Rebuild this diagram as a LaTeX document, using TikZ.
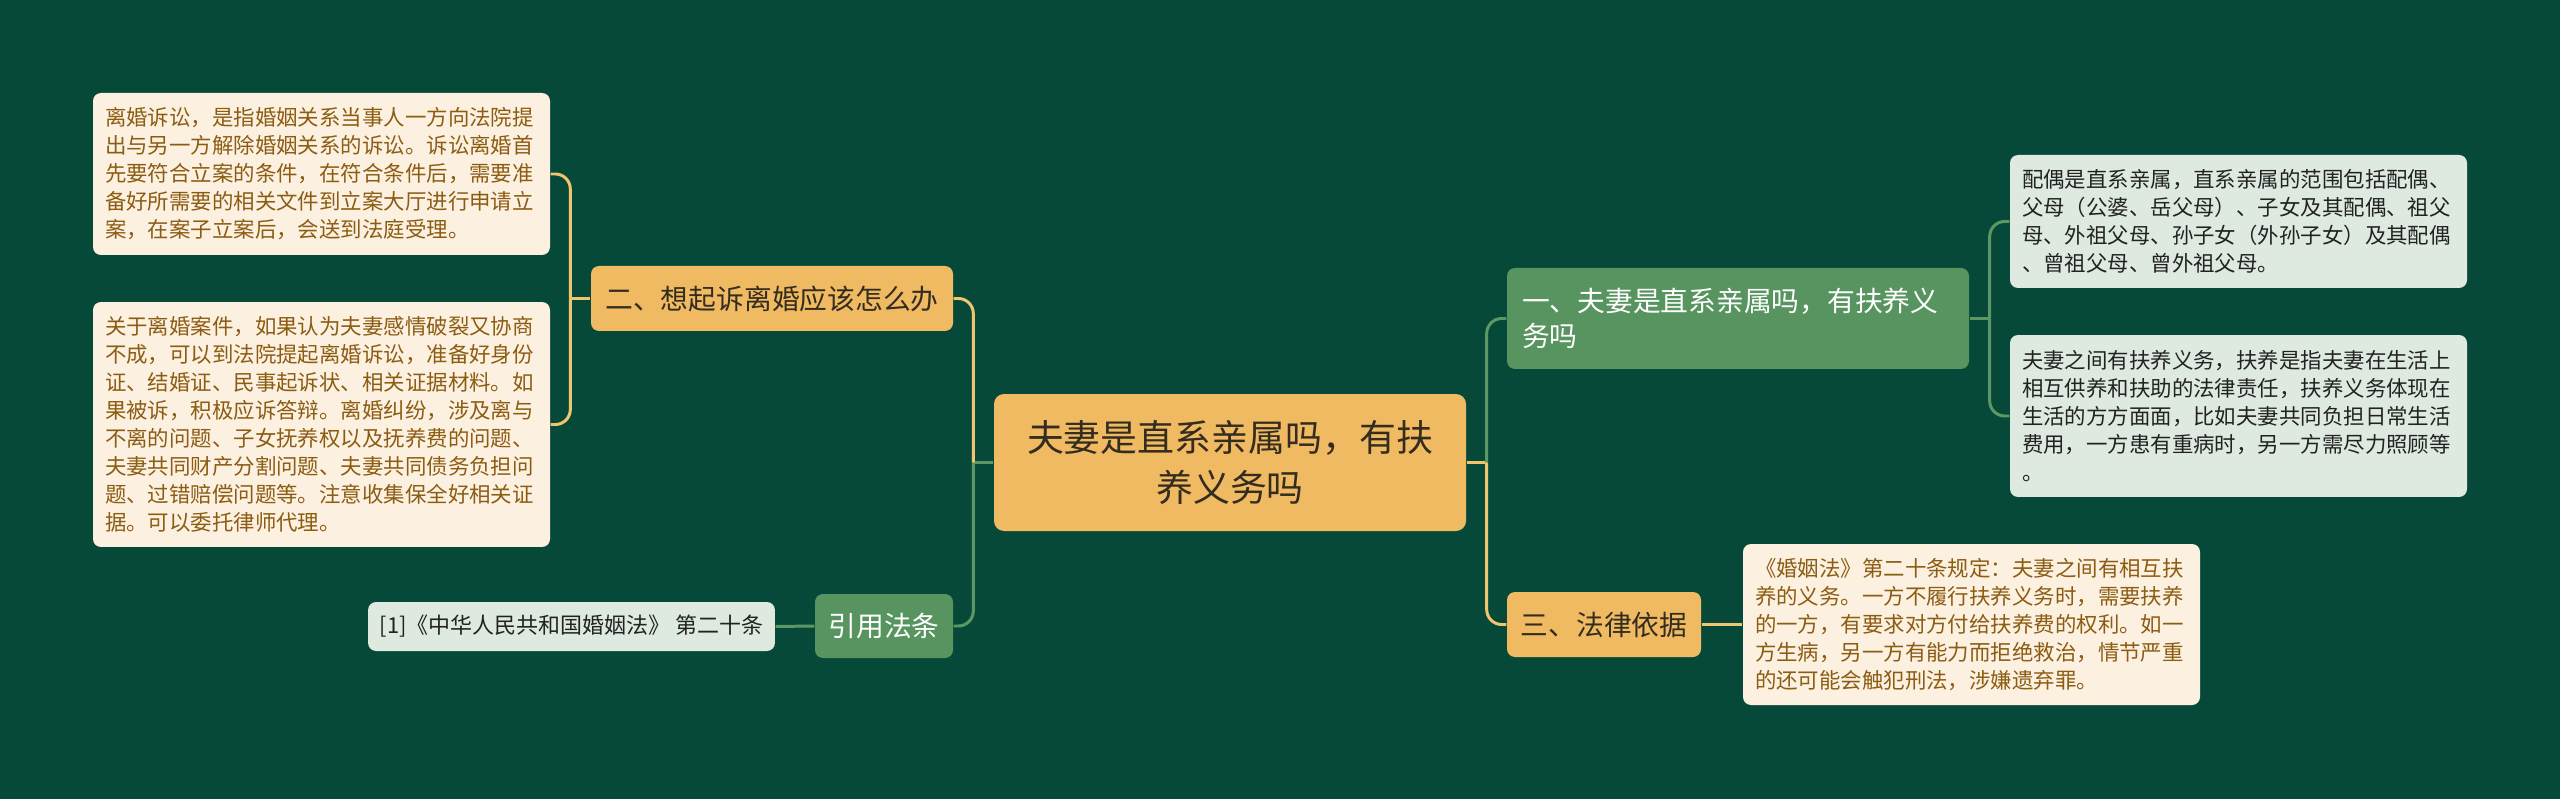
\documentclass[tikz,border=0pt]{standalone}
\usepackage{fontspec}
\setmainfont{Noto Sans CJK SC}
\definecolor{bgdark}{RGB}{7,73,57}
\definecolor{rootfill}{RGB}{239,186,98}
\definecolor{roottext}{RGB}{52,44,30}
\definecolor{topicgreen}{RGB}{88,148,96}
\definecolor{leafcream}{RGB}{252,241,225}
\definecolor{leafbrown}{RGB}{140,92,18}
\definecolor{leafmint}{RGB}{222,234,224}
\definecolor{leafdark}{RGB}{34,34,34}
\definecolor{linkorange}{RGB}{241,196,112}
\definecolor{linkgreen}{RGB}{92,152,100}
\tikzset{
  rootbox/.style={
    fill=rootfill,
    text=roottext,
    rounded corners=1mm,
    align=center,
    font=\fontsize{10.5}{14.2}\selectfont
  },
  topicorange/.style={
    fill=rootfill,
    text=roottext,
    rounded corners=0.8mm,
    align=left,
    font=\fontsize{7.9}{10}\selectfont
  },
  topicgreen/.style={
    fill=topicgreen,
    text=white,
    rounded corners=0.8mm,
    align=left,
    font=\fontsize{7.9}{10}\selectfont
  },
  leafcream/.style={
    fill=leafcream,
    text=leafbrown,
    rounded corners=0.8mm,
    align=left,
    text width=43.3mm,
    inner xsep=1.2mm,
    inner ysep=0pt,
    font=\fontsize{6.1}{7.97}\selectfont
  },
  leafmint/.style={
    fill=leafmint,
    text=leafdark,
    rounded corners=0.8mm,
    align=left,
    text width=43.3mm,
    inner xsep=1.2mm,
    inner ysep=0pt,
    font=\fontsize{6.1}{7.97}\selectfont
  },
  orangelink/.style={
    draw=linkorange,
    line width=0.85pt
  },
  greenlink/.style={
    draw=linkgreen,
    line width=0.85pt
  }
}
\begin{document}
\begin{tikzpicture}[x=0.1mm,y=-0.1mm]

  % Canvas in pixel units of the original image (y grows downwards).
  \fill[bgdark] (0,0) rectangle (2560,799);

  % Central topic.
  \node[rootbox,minimum width=47.2mm,minimum height=13.7mm]
    (root) at (1230,462.5) {夫妻是直系亲属吗，有扶\\养义务吗};

  % Left side: topics and their leaves.
  \node[topicorange,minimum width=36.2mm,minimum height=6.5mm]
    (sue) at (772,298.5) {二、想起诉离婚应该怎么办};
  \node[topicgreen,minimum width=13.8mm,minimum height=6.4mm]
    (cite) at (884,626) {引用法条};

  \node[leafcream,minimum width=45.7mm,minimum height=16.2mm]
    (sueA) at (321.5,174) {离婚诉讼，是指婚姻关系当事人一方向法院提\\
    出与另一方解除婚姻关系的诉讼。诉讼离婚首\\
    先要符合立案的条件，在符合条件后，需要准\\
    备好所需要的相关文件到立案大厅进行申请立\\
    案，在案子立案后，会送到法庭受理。};
  \node[leafcream,minimum width=45.7mm,minimum height=24.5mm]
    (sueB) at (321.5,424.5) {关于离婚案件，如果认为夫妻感情破裂又协商\\
    不成，可以到法院提起离婚诉讼，准备好身份\\
    证、结婚证、民事起诉状、相关证据材料。如\\
    果被诉，积极应诉答辩。离婚纠纷，涉及离与\\
    不离的问题、子女抚养权以及抚养费的问题、\\
    夫妻共同财产分割问题、夫妻共同债务负担问\\
    题、过错赔偿问题等。注意收集保全好相关证\\
    据。可以委托律师代理。};
  \node[fill=leafmint,text=leafdark,rounded corners=0.8mm,
    font=\fontsize{6.25}{7.97}\selectfont,
    minimum width=40.3mm,minimum height=4.9mm]
    (citeA) at (571.5,626.5) {[1]《中华人民共和国婚姻法》 第二十条};

  % Right side: topics and their leaves.
  \node[topicgreen,text width=43.2mm,inner xsep=1.5mm,
    minimum width=46.2mm,minimum height=10.1mm]
    (kin) at (1738,318.5) {一、夫妻是直系亲属吗，有扶养义\\务吗};
  \node[topicorange,minimum width=19.4mm,minimum height=6.5mm]
    (law) at (1604,624.5) {三、法律依据};

  \node[leafmint,minimum width=45.7mm,minimum height=13.3mm]
    (kinA) at (2238.5,221.5) {配偶是直系亲属，直系亲属的范围包括配偶、\\
    父母（公婆、岳父母）、子女及其配偶、祖父\\
    母、外祖父母、孙子女（外孙子女）及其配偶\\
    、曾祖父母、曾外祖父母。};
  \node[leafmint,minimum width=45.7mm,minimum height=16.2mm]
    (kinB) at (2238.5,416) {夫妻之间有扶养义务，扶养是指夫妻在生活上\\
    相互供养和扶助的法律责任，扶养义务体现在\\
    生活的方方面面，比如夫妻共同负担日常生活\\
    费用，一方患有重病时，另一方需尽力照顾等\\
    。};
  \node[leafcream,minimum width=45.7mm,minimum height=16.1mm]
    (lawA) at (1971.5,624.5) {《婚姻法》第二十条规定：夫妻之间有相互扶\\
    养的义务。一方不履行扶养义务时，需要扶养\\
    的一方，有要求对方付给扶养费的权利。如一\\
    方生病，另一方有能力而拒绝救治，情节严重\\
    的还可能会触犯刑法，涉嫌遗弃罪。};

  % Connectors from the central topic.
  \draw[greenlink] (root.west) -- ++(-20,0) coordinate (rootL);
  \draw[orangelink,rounded corners=1.5mm] (rootL) |- (sue.east);
  \draw[greenlink,rounded corners=1.5mm] (rootL) |- (cite.east);
  \draw[orangelink] (root.east) -- ++(20,0) coordinate (rootR);
  \draw[greenlink,rounded corners=1.5mm] (rootR) |- (kin.west);
  \draw[orangelink,rounded corners=1.5mm] (rootR) |- (law.west);

  % Connectors to the leaves.
  \draw[orangelink] (sue.west) -- ++(-20,0) coordinate (sueL);
  \draw[orangelink,rounded corners=1.5mm] (sueL) |- (sueA.east);
  \draw[orangelink,rounded corners=1.5mm] (sueL) |- (sueB.east);
  \draw[greenlink] (cite.west) -- (citeA.east);
  \draw[greenlink] (kin.east) -- ++(20,0) coordinate (kinR);
  \draw[greenlink,rounded corners=1.5mm] (kinR) |- (kinA.west);
  \draw[greenlink,rounded corners=1.5mm] (kinR) |- (kinB.west);
  \draw[orangelink] (law.east) -- (lawA.west);

\end{tikzpicture}
\end{document}
